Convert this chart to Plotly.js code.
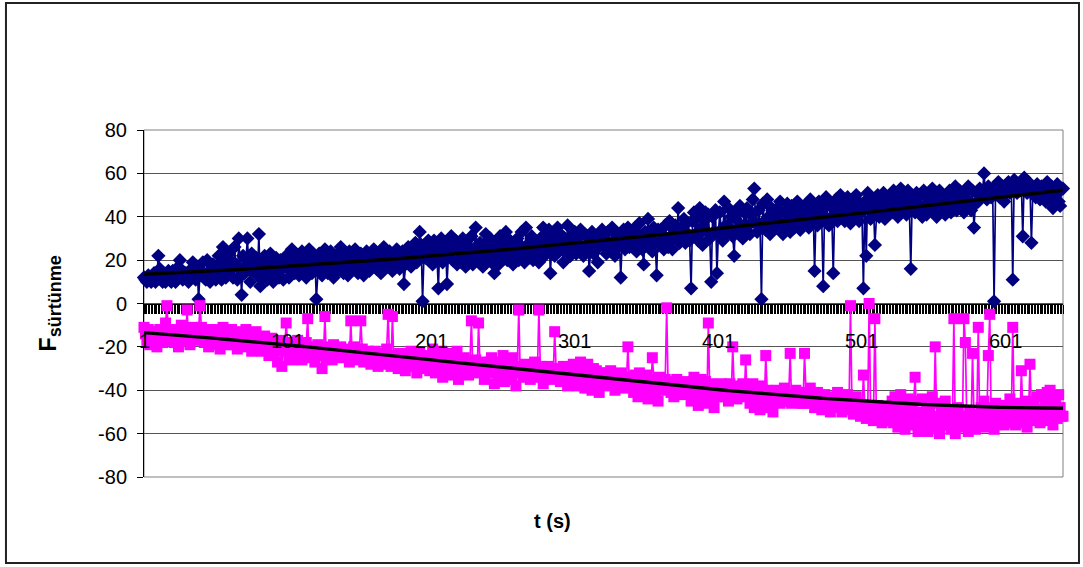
<!DOCTYPE html>
<html>
<head>
<meta charset="utf-8">
<script src="https://cdn.plot.ly/plotly-3.0.1.min.js"></script>
<style>
  html, body { margin: 0; padding: 0; background: #ffffff; }
  #chart { width: 1083px; height: 567px; }
</style>
</head>
<body>
<div id="chart"></div>
<script>
// Friction force readings, one per second (t = 1 ... 641)
const forceUpper = [
  12,11,10,13,11,10,12,14,10,13,22,16,11,10,13,10,12,15,11,10,
  15,12,10,12,17,20,15,11,13,14,12,10,13,16,19,13,11,17,2,14,
  15,19,12,11,20,14,10,16,18,13,11,17,22,15,11,26,19,12,16,23,
  15,19,12,26,18,11,30,16,4,22,14,20,30,17,10,23,19,15,21,13,
  32,8,18,12,22,16,11,19,23,14,10,17,21,15,12,20,16,11,18,22,
  16,12,21,25,19,14,17,22,13,18,24,20,15,12,21,25,17,14,19,22,
  2,16,23,18,13,21,25,17,14,20,24,16,12,22,19,15,23,26,18,14,
  21,17,13,24,20,16,22,25,18,14,21,23,17,13,20,24,19,15,22,18,
  25,20,16,23,19,14,22,26,18,21,17,24,20,15,23,19,25,21,16,22,
  24,9,18,23,26,20,17,25,22,28,19,24,33,27,1,23,21,26,29,22,
  25,18,29,24,21,7,27,30,19,24,28,9,22,27,31,20,25,29,18,24,
  26,19,30,22,17,27,24,21,31,18,25,35,22,20,28,24,17,27,32,21,
  24,30,19,26,14,22,28,18,31,24,21,27,33,20,25,29,22,18,28,24,
  30,20,27,33,23,19,35,27,21,25,31,20,29,23,27,19,30,24,35,22,
  30,24,34,14,27,32,22,29,35,24,32,26,19,30,25,36,28,22,31,26,
  33,23,30,26,34,24,22,32,27,31,15,26,33,23,30,25,19,32,27,34,
  27,32,23,33,28,24,35,29,22,32,26,31,12,28,34,25,31,35,26,29,
  32,26,35,24,31,37,28,25,18,33,29,39,27,32,24,35,28,13,34,29,
  34,27,25,36,30,26,38,29,25,34,36,30,44,28,35,31,39,28,37,32,
  29,7,38,42,32,40,29,44,34,27,38,42,33,41,30,10,40,33,43,14,
  32,42,34,29,47,36,32,44,35,40,31,22,39,43,33,45,36,30,42,35,
  44,36,32,41,48,53,37,33,43,36,2,46,38,34,48,40,32,44,37,41,
  35,44,38,47,36,32,42,37,46,40,33,45,38,35,43,47,39,34,42,37,
  45,37,43,35,48,39,44,15,41,36,47,42,38,8,44,49,39,36,45,40,
  14,43,48,38,45,50,40,46,38,44,49,41,37,47,45,40,50,42,38,46,
  42,7,47,22,51,43,39,48,45,27,42,50,40,47,43,51,39,46,48,42,
  48,42,52,44,49,40,46,53,43,50,47,41,52,44,16,49,45,42,51,46,
  43,50,40,52,45,41,50,44,47,53,42,49,40,46,52,44,50,47,41,49,
  45,52,42,50,46,54,43,49,52,44,50,42,51,46,54,47,43,52,35,46,
  51,47,53,49,52,60,50,48,54,51,49,53,1,50,52,56,49,51,54,47,
  54,52,56,51,55,11,57,53,51,55,52,54,31,58,53,51,56,54,28,52,
  53,49,55,51,48,54,50,52,47,56,51,49,54,44,52,50,55,47,45,53,53
];

const forceLower = [
  -11,-14,-17,-12,-19,-15,-13,-18,-16,-20,-13,-12,-17,-18,-15,-9,-1,-13,-17,-15,
  -13,-18,-12,-16,-20,-14,-10,-17,-13,-15,-3,-16,-19,-14,-11,-17,-15,-12,-13,-1,
  -11,-15,-18,-13,-14,-20,-12,-16,-13,-19,-15,-12,-17,-21,-14,-11,-18,-16,-13,-19,
  -15,-12,-19,-17,-14,-21,-16,-13,-18,-20,-15,-12,-17,-19,-14,-22,-16,-18,-13,-20,
  -18,-16,-22,-19,-15,-21,-17,-24,-20,-16,-23,-18,-21,-27,-19,-17,-29,-22,-20,-9,
  -18,-24,-20,-26,-19,-23,-20,-17,-24,-21,-26,-19,-22,-18,-7,-25,-21,-23,-20,-27,
  -21,-19,-24,-21,-30,-23,-6,-25,-20,-23,-22,-26,-19,-24,-21,-23,-25,-20,-24,-22,
  -24,-21,-23,-27,-8,-24,-20,-26,-22,-25,-23,-8,-21,-27,-24,-26,-22,-25,-28,-23,
  -25,-22,-25,-29,-24,-27,-23,-26,-28,-21,-5,-25,-29,-6,-27,-24,-26,-30,-23,-28,
  -24,-27,-31,-23,-28,-26,-22,-29,-25,-27,-32,-26,-23,-28,-30,-24,-27,-29,-25,-31,
  -25,-21,-29,-32,-24,-27,-31,-22,-34,-25,-28,-31,-23,-27,-33,-29,-25,-29,-22,-35,
  -27,-30,-28,-25,-31,-29,-33,-27,-8,-30,-28,-26,-32,-9,-29,-31,-27,-35,-28,-30,
  -31,-27,-25,-32,-37,-27,-30,-35,-28,-32,-24,-36,-30,-27,-33,-28,-35,-25,-31,-38,
  -29,-3,-32,-30,-34,-28,-31,-33,-29,-35,-32,-30,-27,-34,-31,-3,-29,-33,-37,-30,
  -32,-34,-29,-31,-35,-33,-13,-30,-34,-32,-36,-31,-29,-35,-33,-38,-30,-32,-34,-28,
  -35,-29,-38,-33,-27,-36,-31,-39,-34,-28,-37,-32,-40,-30,-36,-31,-34,-41,-32,-37,
  -35,-32,-37,-34,-38,-31,-36,-33,-40,-35,-37,-34,-32,-38,-36,-39,-35,-20,-37,-34,
  -36,-41,-33,-39,-43,-32,-37,-42,-35,-39,-33,-44,-36,-40,-25,-35,-42,-37,-45,-34,
  -38,-36,-40,-35,-2,-39,-37,-41,-36,-43,-38,-35,-40,-37,-42,-39,-36,-41,-38,-40,
  -37,-45,-40,-34,-43,-38,-47,-41,-35,-44,-40,-36,-46,-9,-41,-37,-44,-48,-39,-43,
  -42,-39,-37,-41,-38,-43,-40,-45,-37,-42,-20,-39,-41,-44,-38,-42,-40,-37,-43,-26,
  -42,-38,-46,-43,-37,-48,-40,-45,-42,-49,-38,-43,-46,-24,-40,-45,-48,-41,-50,-43,
  -44,-40,-43,-46,-41,-45,-39,-45,-44,-42,-23,-46,-43,-45,-40,-44,-44,-41,-46,-46,
  -23,-41,-45,-43,-39,-46,-42,-48,-44,-41,-47,-43,-49,-45,-42,-48,-46,-44,-50,-43,
  -46,-44,-48,-41,-47,-45,-50,-43,-49,-46,-42,-48,-1,-45,-51,-47,-43,-49,-46,-52,
  -51,-33,-47,-53,-50,0,-48,-52,-54,-7,-50,-47,-53,-51,-55,-49,-52,-48,-54,-50,
  -52,-45,-55,-43,-50,-57,-46,-42,-53,-48,-58,-47,-44,-54,-49,-56,-45,-34,-51,-59,
  -50,-55,-44,-58,-51,-47,-59,-49,-53,-43,-57,-20,-52,-46,-60,-54,-48,-56,-45,-52,
  -56,-50,-58,-53,-7,-60,-54,-48,-57,-52,-55,-7,-18,-54,-59,-50,-56,-23,-52,-58,
  -51,-11,-56,-48,-54,-45,-57,-51,-24,-5,-53,-48,-58,-46,-55,-51,-47,-54,-49,-56,
  -51,-47,-55,-44,-53,-11,-49,-56,-46,-52,-54,-31,-48,-55,-45,-57,-51,-28,-48,-54,
  -48,-53,-43,-50,-55,-42,-49,-54,-45,-41,-52,-40,-47,-56,-49,-44,-53,-42,-48,-52,-52
];

const xTickValues = [1, 101, 201, 301, 401, 501, 601];
const xTickText = ['1', '101', '201', '301', '401', '501', '601'];
const yTickValues = [-80, -60, -40, -20, 0, 20, 40, 60, 80];
const yTickText = ['-80', '-60', '-40', '-20', '0', '20', '40', '60', '80'];

const seconds = forceUpper.map((_, i) => i + 1);

// Least-squares polynomial trend (x rescaled to [-1, 1] for stable normal equations)
function polyTrend(xs, ys, order) {
  const n = xs.length;
  const mid = (xs[0] + xs[n - 1]) / 2;
  const half = (xs[n - 1] - xs[0]) / 2;
  const u = xs.map(x => (x - mid) / half);
  const m = order + 1;
  const A = Array.from({ length: m }, () => new Array(m + 1).fill(0));
  for (let k = 0; k < n; k++) {
    const pw = [1];
    for (let p = 1; p < 2 * m; p++) pw.push(pw[p - 1] * u[k]);
    for (let r = 0; r < m; r++) {
      for (let c = 0; c < m; c++) A[r][c] += pw[r + c];
      A[r][m] += pw[r] * ys[k];
    }
  }
  for (let col = 0; col < m; col++) {
    let piv = col;
    for (let r = col + 1; r < m; r++) if (Math.abs(A[r][col]) > Math.abs(A[piv][col])) piv = r;
    [A[col], A[piv]] = [A[piv], A[col]];
    for (let r = 0; r < m; r++) {
      if (r === col) continue;
      const f = A[r][col] / A[col][col];
      for (let c = col; c <= m; c++) A[r][c] -= f * A[col][c];
    }
  }
  const coef = A.map((row, i) => row[m] / row[i]);
  return u.map(v => coef.reduce((s, c, p) => s + c * Math.pow(v, p), 0));
}

const trendUpper = polyTrend(seconds, forceUpper, 3);
const trendLower = polyTrend(seconds, forceLower, 3);

const font = 'Liberation Sans, Arial, Helvetica, sans-serif';

const traces = [
  {
    x: seconds, y: forceUpper, type: 'scatter', mode: 'lines+markers',
    name: 'Fsürtünme +', cliponaxis: false,
    line: { color: '#000080', width: 1.7 },
    marker: { symbol: 'diamond', size: 11, color: '#000080', line: { width: 0 } }
  },
  {
    x: seconds, y: forceLower, type: 'scatter', mode: 'lines+markers',
    name: 'Fsürtünme -', cliponaxis: false,
    line: { color: '#ff00ff', width: 1.7 },
    marker: { symbol: 'square', size: 11, color: '#ff00ff', line: { width: 0 } }
  },
  {
    x: seconds, y: trendUpper, type: 'scatter', mode: 'lines',
    name: 'trend +', cliponaxis: false,
    line: { color: '#000000', width: 3.4 }
  },
  {
    x: seconds, y: trendLower, type: 'scatter', mode: 'lines',
    name: 'trend -', cliponaxis: false,
    line: { color: '#000000', width: 3.4 }
  }
];

// Category labels sit on top of the markers, so they are drawn as annotations
const xTickAnnotations = xTickValues.map((v, i) => ({
  text: xTickText[i], xref: 'x', yref: 'paper', x: v, y: 0.5,
  xanchor: 'center', yanchor: 'top', yshift: -24, showarrow: false,
  font: { family: font, size: 20, color: '#000000' }
}));

const layout = {
  width: 1083, height: 567,
  margin: { l: 144, r: 20, t: 130, b: 90, pad: 0 },
  paper_bgcolor: '#ffffff', plot_bgcolor: '#ffffff',
  showlegend: false,
  font: { family: font, color: '#000000', size: 20 },
  xaxis: {
    range: [1, seconds.length],
    anchor: 'free', position: 0.5, side: 'bottom',
    tickmode: 'array', tickvals: xTickValues, ticktext: xTickText,
    showticklabels: false,
    ticks: 'outside', ticklen: 9, tickwidth: 1, tickcolor: '#000000',
    minor: { tickmode: 'linear', tick0: 1, dtick: 1, ticks: 'outside', ticklen: 9, tickwidth: 1, tickcolor: '#000000', showgrid: false },
    showline: true, linecolor: '#000000', linewidth: 1,
    showgrid: false, zeroline: false,
    layer: 'below traces'
  },
  yaxis: {
    range: [-80, 80],
    tickmode: 'array', tickvals: yTickValues, ticktext: yTickText,
    ticks: 'outside', ticklen: 6, tickwidth: 1, tickcolor: '#000000',
    ticklabelstandoff: 6,
    showline: true, linecolor: '#000000', linewidth: 1,
    showgrid: true, gridcolor: '#555555', gridwidth: 1,
    zeroline: false,
    layer: 'below traces',
    tickfont: { family: font, size: 20, color: '#000000' }
  },
  shapes: [
    { type: 'rect', xref: 'paper', yref: 'paper', x0: 0, x1: 1, y0: 0, y1: 1,
      line: { color: '#808080', width: 1 }, layer: 'below' },
    { type: 'rect', xref: 'paper', yref: 'paper', x0: -0.1502, x1: 1.0174, y0: -0.2478, y1: 1.366,
      line: { color: '#222222', width: 2 }, layer: 'below' }
  ],
  annotations: xTickAnnotations.concat([
    { text: '<b>t (s)</b>', xref: 'paper', yref: 'paper', x: 0.445, y: -0.127,
      xanchor: 'center', yanchor: 'middle', showarrow: false,
      font: { family: font, size: 20, color: '#000000' } },
    { text: "<b>F<sub><span style='font-size:18px'>sürtünme</span></sub></b>",
      xref: 'paper', yref: 'paper', x: -0.102, y: 0.501, textangle: -90,
      xanchor: 'center', yanchor: 'middle', showarrow: false,
      font: { family: font, size: 23, color: '#000000' } }
  ])
};

Plotly.newPlot('chart', traces, layout, { displayModeBar: false, staticPlot: true });
</script>
</body>
</html>
